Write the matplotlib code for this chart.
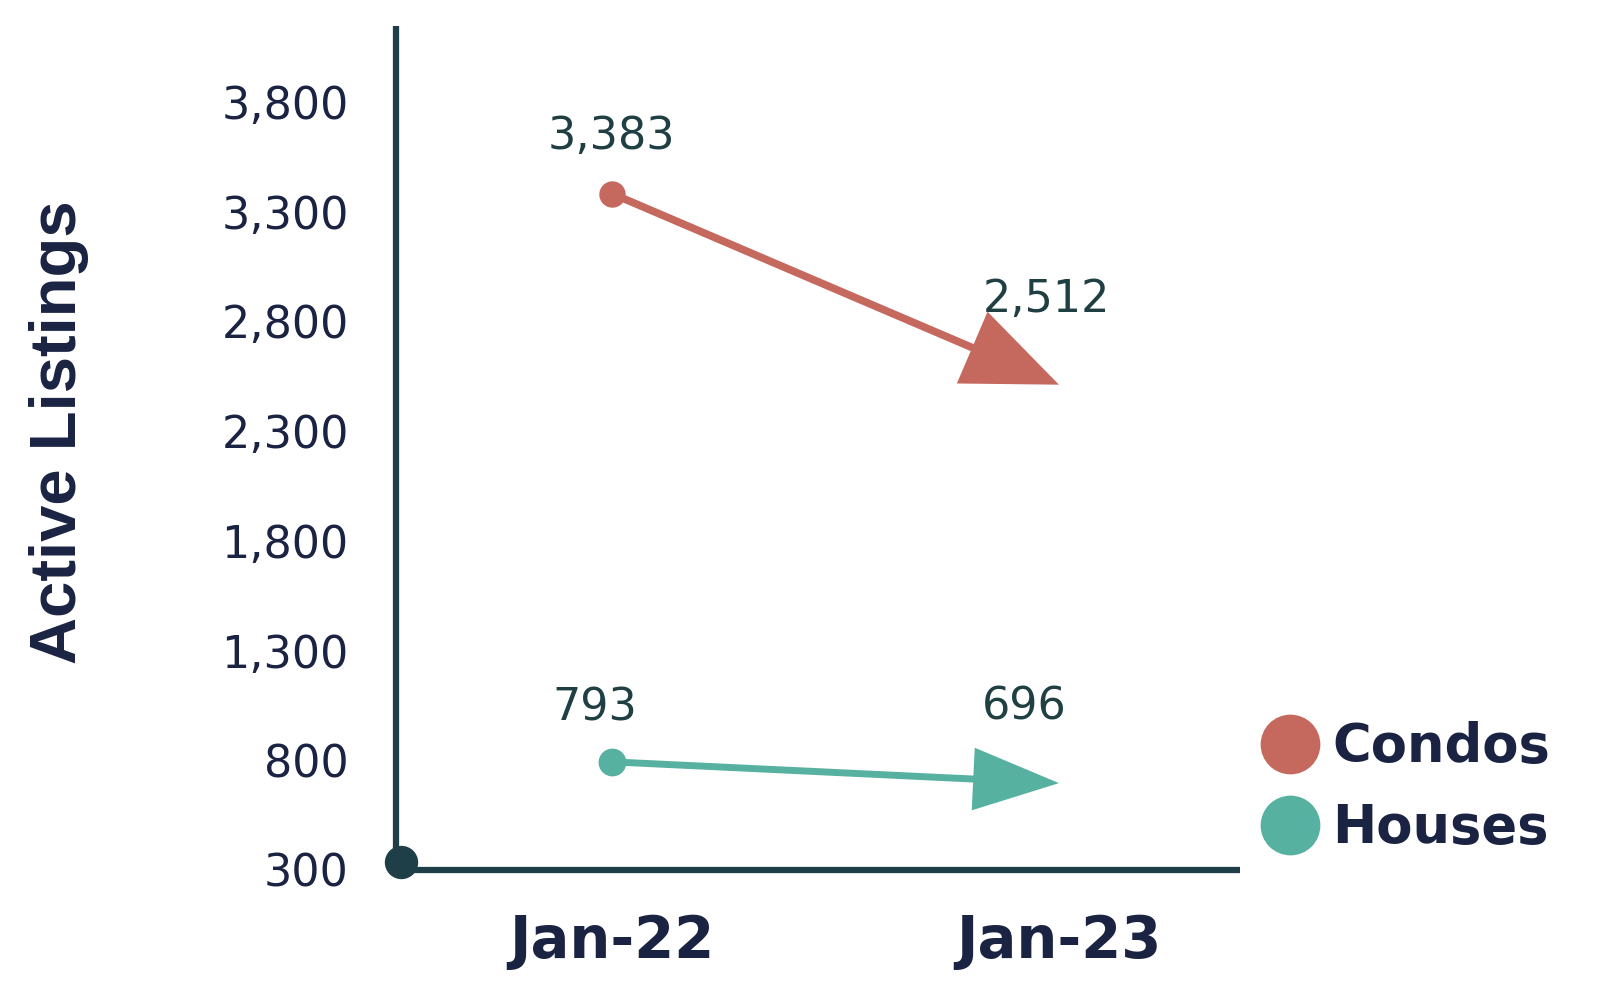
import matplotlib
matplotlib.use("Agg")
import matplotlib.pyplot as plt
from matplotlib.patches import FancyArrowPatch, ArrowStyle
from matplotlib.lines import Line2D

# ---- data ----
periods = ["Jan-22", "Jan-23"]
series_names = ["Condos", "Houses"]
condos = [3383, 2512]
houses = [793, 696]
yticks = [300, 800, 1300, 1800, 2300, 2800, 3300, 3800]

# ---- style ----
C_CONDO = "#c5695f"
C_HOUSE = "#56b1a0"
C_AXIS = "#1e3f47"
C_TEXT = "#1b2342"
C_ANN = "#1f3f42"

fig = plt.figure(figsize=(16, 9.91), dpi=100)
ax = fig.add_axes([0.2475, 0.1221, 0.5275, 0.8517])
ax.set_xlim(-0.483, 1.405)
ax.set_ylim(300, 4147)

for s in ["top", "right"]:
    ax.spines[s].set_visible(False)
for s in ["left", "bottom"]:
    ax.spines[s].set_color(C_AXIS)
    ax.spines[s].set_linewidth(4.5)
    ax.spines[s].set_capstyle("butt")

ax.set_yticks(yticks)
ax.set_yticklabels([f"{v:,}" for v in yticks], fontsize=32, color=C_TEXT,
                   family="DejaVu Sans")
ax.set_xticks(range(len(periods)))
ax.set_xticklabels(periods, fontsize=41.5, fontweight="bold", color=C_TEXT,
                   family="DejaVu Sans")
ax.tick_params(axis="y", length=0, pad=34)
ax.tick_params(axis="x", length=0, pad=31)

# origin dot
ax.plot([0.006], [0.0095], "o", ms=23, color=C_AXIS, transform=ax.transAxes,
        clip_on=False, zorder=5)

def draw(vals, color, hl, hw, lw, ms, offs):
    x = list(range(len(vals)))
    arr = FancyArrowPatch((x[0], vals[0]), (x[1], vals[1]),
                          arrowstyle=ArrowStyle("-|>", head_length=hl, head_width=hw),
                          mutation_scale=1, shrinkA=0, shrinkB=0,
                          color=color, lw=lw, zorder=3,
                          joinstyle="miter", capstyle="butt")
    ax.add_patch(arr)
    ax.plot([x[0]], [vals[0]], "o", ms=ms, color=color, zorder=4)
    for xi, v, (dx, dy) in zip(x, vals, offs):
        ax.annotate(f"{v:,}", (xi, v), xytext=(dx, dy), textcoords="offset points",
                    ha="center", va="center", fontsize=32, color=C_ANN,
                    family="DejaVu Sans")

draw(condos, C_CONDO, 58, 24, 5.5, 18, [(0, 41), (-9, 61)])
draw(houses, C_HOUSE, 52, 19, 5, 19, [(-12, 39), (-25, 55)])

ax.set_ylabel("Active Listings", fontsize=47, fontweight="bold", color=C_TEXT,
              family="Liberation Sans")
ax.yaxis.set_label_coords(-0.364, 0.519)

# legend
handles = [Line2D([], [], marker="o", ls="", ms=42, color=c) for c in (C_CONDO, C_HOUSE)]
leg = fig.legend(handles, series_names, loc="center left",
                 bbox_to_anchor=(0.757, 0.205), frameon=False,
                 prop={"family": "DejaVu Sans", "weight": "bold", "size": 38},
                 handletextpad=0.2, labelspacing=0.55, handlelength=1.2)
for t in leg.get_texts():
    t.set_color(C_TEXT)

fig.savefig("out.png", dpi=100, facecolor="white")
